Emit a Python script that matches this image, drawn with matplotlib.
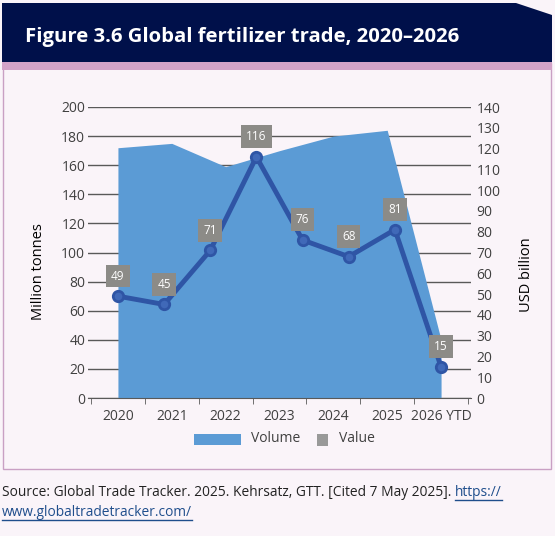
import matplotlib.pyplot as plt
from matplotlib.patches import Polygon, Rectangle
from matplotlib.lines import Line2D
import numpy as np

plt.rcParams['font.family'] = ['Open Sans', 'DejaVu Sans']

# data
years = ['2020', '2021', '2022', '2023', '2024', '2025', '2026 YTD']
volume = [172, 175, 159, 170, 180, 184, 40]          # million tonnes
value = [49, 45, 71, 116, 76, 68, 81, 15]             # USD billion
left_ticks = list(range(0, 201, 20))
right_ticks = list(range(0, 141, 10))

W, H = 555, 536
AREA = '#5b9bd5'
LINE = '#2f55a5'
LABEL_BG = '#8c8b87'
NAVY = '#00104a'
PINK = '#d3a3c8'
BG = '#faf4f9'
GRID = '#595959'
TXT = '#404040'


def fx(px):
    return px / W


def fy(py):
    return 1 - py / H


fig = plt.figure(figsize=(W / 100, H / 100), dpi=100)
fig.patch.set_facecolor(BG)

# frame: box, pink band, navy title bar with clipped corner
fig.add_artist(Rectangle((fx(2.5), fy(469)), fx(551) - fx(2.5), (469 - 63) / H,
                         transform=fig.transFigure, fc=BG, ec='#c9a0c4', lw=1,
                         zorder=-5))
fig.add_artist(Rectangle((fx(2), fy(70)), fx(552) - fx(2), 8 / H,
                         transform=fig.transFigure, fc=PINK, ec='none', zorder=-4))
fig.add_artist(Polygon([(fx(2), fy(3)), (fx(516), fy(3)), (fx(552), fy(15)),
                        (fx(552), fy(62)), (fx(2), fy(62))],
                       transform=fig.transFigure, fc=NAVY, ec='none', zorder=-4))
fig.text(fx(25), fy(37), 'Figure 3.6 Global fertilizer trade, 2020\u20132026',
         color='white', fontsize=14.6, fontweight='bold', va='center', ha='left')

# main axes
ax = fig.add_axes([fx(88), fy(398), fx(471) - fx(88), (398 - 107) / H])
ax.patch.set_visible(False)
x = np.arange(len(years))
ax.fill_between(x, volume, color=AREA, lw=0, zorder=2)
pad = 3 / 53.8
ax.set_xlim(-0.5 - pad, 6.5 + pad)
ax.set_ylim(0, 200)
ax.set_yticks(left_ticks)
ax.yaxis.grid(True, color=GRID, lw=1)
ax.set_axisbelow(True)
ax.set_xticks(x)
ax.set_xticklabels(years)
ax.set_xticks(np.arange(-0.5, 7, 1), minor=True)
ax.tick_params(axis='x', which='major', length=0, pad=8, labelsize=10, labelcolor=TXT)
ax.tick_params(axis='x', which='minor', length=4, color=GRID, direction='out')
ax.tick_params(axis='y', length=0, pad=2, labelsize=10, labelcolor=TXT)
for s in ['top', 'left', 'right']:
    ax.spines[s].set_visible(False)
ax.spines['bottom'].set_color(GRID)

# value line on secondary axis, spread evenly across the categories
ax2 = ax.twinx()
ax2.set_ylim(0, 140)
ax2.set_yticks(right_ticks)
ax2.tick_params(axis='y', length=0, pad=4, labelsize=10, labelcolor=TXT)
for s in ax2.spines.values():
    s.set_visible(False)
xv = np.linspace(0, len(years) - 1, len(value))
ax2.plot(xv, value, color=LINE, lw=3.5, marker='o', ms=7.5, mfc='#4069b8',
         mec=LINE, mew=2, zorder=3)
for xi, v in zip(xv, value):
    ax2.annotate(str(v), (xi, v), xytext=(0, 14.5), textcoords='offset points',
                 ha='center', va='center', color='white', fontsize=8.5,
                 bbox=dict(boxstyle='square,pad=0.42', fc=LABEL_BG, ec='none'))

fig.text(fx(38), fy(272), 'Million tonnes', rotation=90, ha='center', va='center',
         fontsize=10.5, color='black')
fig.text(fx(527), fy(275), 'USD billion', rotation=90, ha='center', va='center',
         fontsize=10.5, color='black')

# legend
fig.add_artist(Rectangle((fx(194), fy(445)), 47 / W, 11 / H,
                         transform=fig.transFigure, fc=AREA, ec='none'))
fig.text(fx(251), fy(439), 'Volume', ha='left', va='center', fontsize=10, color=TXT)
fig.add_artist(Rectangle((fx(317), fy(446)), 11 / W, 12 / H,
                         transform=fig.transFigure, fc='#999999', ec='none'))
fig.text(fx(339), fy(439), 'Value', ha='left', va='center', fontsize=10, color=TXT)

# source note
t1 = fig.text(fx(2), fy(493), 'Source: Global Trade Tracker. 2025. Kehrsatz, GTT. '
              '[Cited 7 May 2025]. ', ha='left', va='center', fontsize=9.9, color='#222222')
fig.canvas.draw()
r = fig.canvas.get_renderer()
bb = t1.get_window_extent(r)
LINK = '#1f4e8c'
l1 = fig.text(bb.x1 / W, fy(493), 'https://', ha='left', va='center',
              fontsize=9.9, color=LINK)
l2 = fig.text(fx(2), fy(513), 'www.globaltradetracker.com/', ha='left', va='center',
              fontsize=9.9, color=LINK)
fig.canvas.draw()
for t in (l1, l2):
    b = t.get_window_extent(r)
    yy = (b.y0 + 1) / H
    fig.add_artist(Line2D([b.x0 / W, b.x1 / W], [yy, yy], transform=fig.transFigure,
                          color=LINK, lw=1))

fig.savefig('out.png', dpi=100, facecolor=BG)
